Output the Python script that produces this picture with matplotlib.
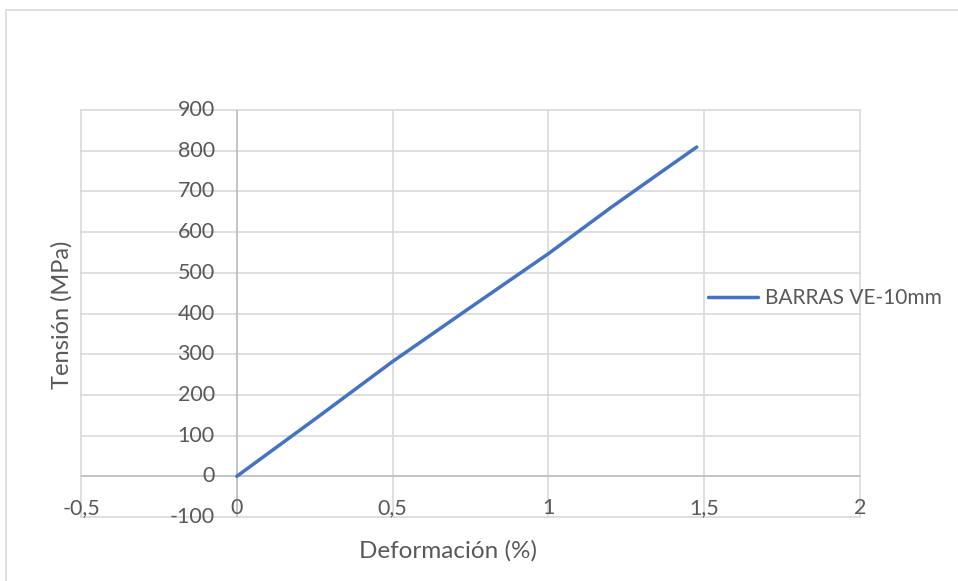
import matplotlib
matplotlib.use("Agg")
import matplotlib.pyplot as plt
from matplotlib.patches import Rectangle
from matplotlib.transforms import offset_copy

# Stress-strain curve of the VE-10mm bars
deformacion = [0.0, 0.25, 0.5, 0.75, 1.0, 1.2, 1.37, 1.476]
tension = [0.0, 140, 282, 415, 547, 660, 752, 809]
serie = "BARRAS VE-10mm"

x_ticks = [-0.5, 0.0, 0.5, 1.0, 1.5, 2.0]
x_labels = ["-0,5", "0", "0,5", "1", "1,5", "2"]
y_ticks = [-100, 0, 100, 200, 300, 400, 500, 600, 700, 800, 900]

TEXT = "#595959"
GRID = "#d9d9d9"
AXIS = "#bfbfbf"
BLUE = "#4472C4"

plt.rcParams["font.family"] = ["Lato", "DejaVu Sans"]

W, H = 958, 581
fig = plt.figure(figsize=(W / 100, H / 100), dpi=100)

# chart frame (runs off the right and bottom edges)
fig.patches.append(Rectangle((6 / W, -0.1), 1.2, 1.1 - 10 / H, transform=fig.transFigure,
                             fill=False, edgecolor=GRID, linewidth=1.2))

ax = fig.add_axes([81 / W, 1 - 517 / H, 779 / W, 407 / H])
ax.set_xlim(-0.5, 2.0)
ax.set_ylim(-100, 900)
for s in ax.spines.values():
    s.set_visible(False)
ax.set_xticks([])
ax.set_yticks([])

# grid
for v in x_ticks:
    ax.axvline(v, color=GRID, lw=1.2, zorder=0, clip_on=False)
for v in y_ticks:
    ax.axhline(v, color=GRID, lw=1.2, zorder=0, clip_on=False)
ax.axvline(0, color=AXIS, lw=1.2, zorder=1)
ax.axhline(0, color=AXIS, lw=1.2, zorder=1)

# tick labels sit next to the axes crossing at zero
ytr = offset_copy(ax.transData, fig=fig, x=-22, y=0, units="dots")
for v in y_ticks:
    ax.text(0, v, str(v), transform=ytr, ha="right", va="center",
            fontsize=15.5, color=TEXT)
xtr = offset_copy(ax.transData, fig=fig, x=0, y=-32, units="dots")
for v, lab in zip(x_ticks, x_labels):
    ax.text(v, 0, lab, transform=xtr, ha="center", va="center",
            fontsize=15.5, color=TEXT)

ax.plot(deformacion, tension, color=BLUE, lw=2.5, solid_capstyle="round",
        label=serie, zorder=3)

fig.text(62 / W, 1 - 315 / H, "Tensión (MPa)", rotation=90, ha="center",
         va="center", fontsize=17, color=TEXT)
fig.text(448 / W, 1 - 551 / H, "Deformación (%)", ha="center", va="center",
         fontsize=17.5, color=TEXT)

leg = ax.legend(loc="center left", bbox_to_anchor=(700 / W, 1 - 298 / H),
                bbox_transform=fig.transFigure, frameon=False, fontsize=15,
                handlelength=2.4, handletextpad=0.3, borderaxespad=0)
for t in leg.get_texts():
    t.set_color(TEXT)

fig.savefig("out.png", dpi=100)
